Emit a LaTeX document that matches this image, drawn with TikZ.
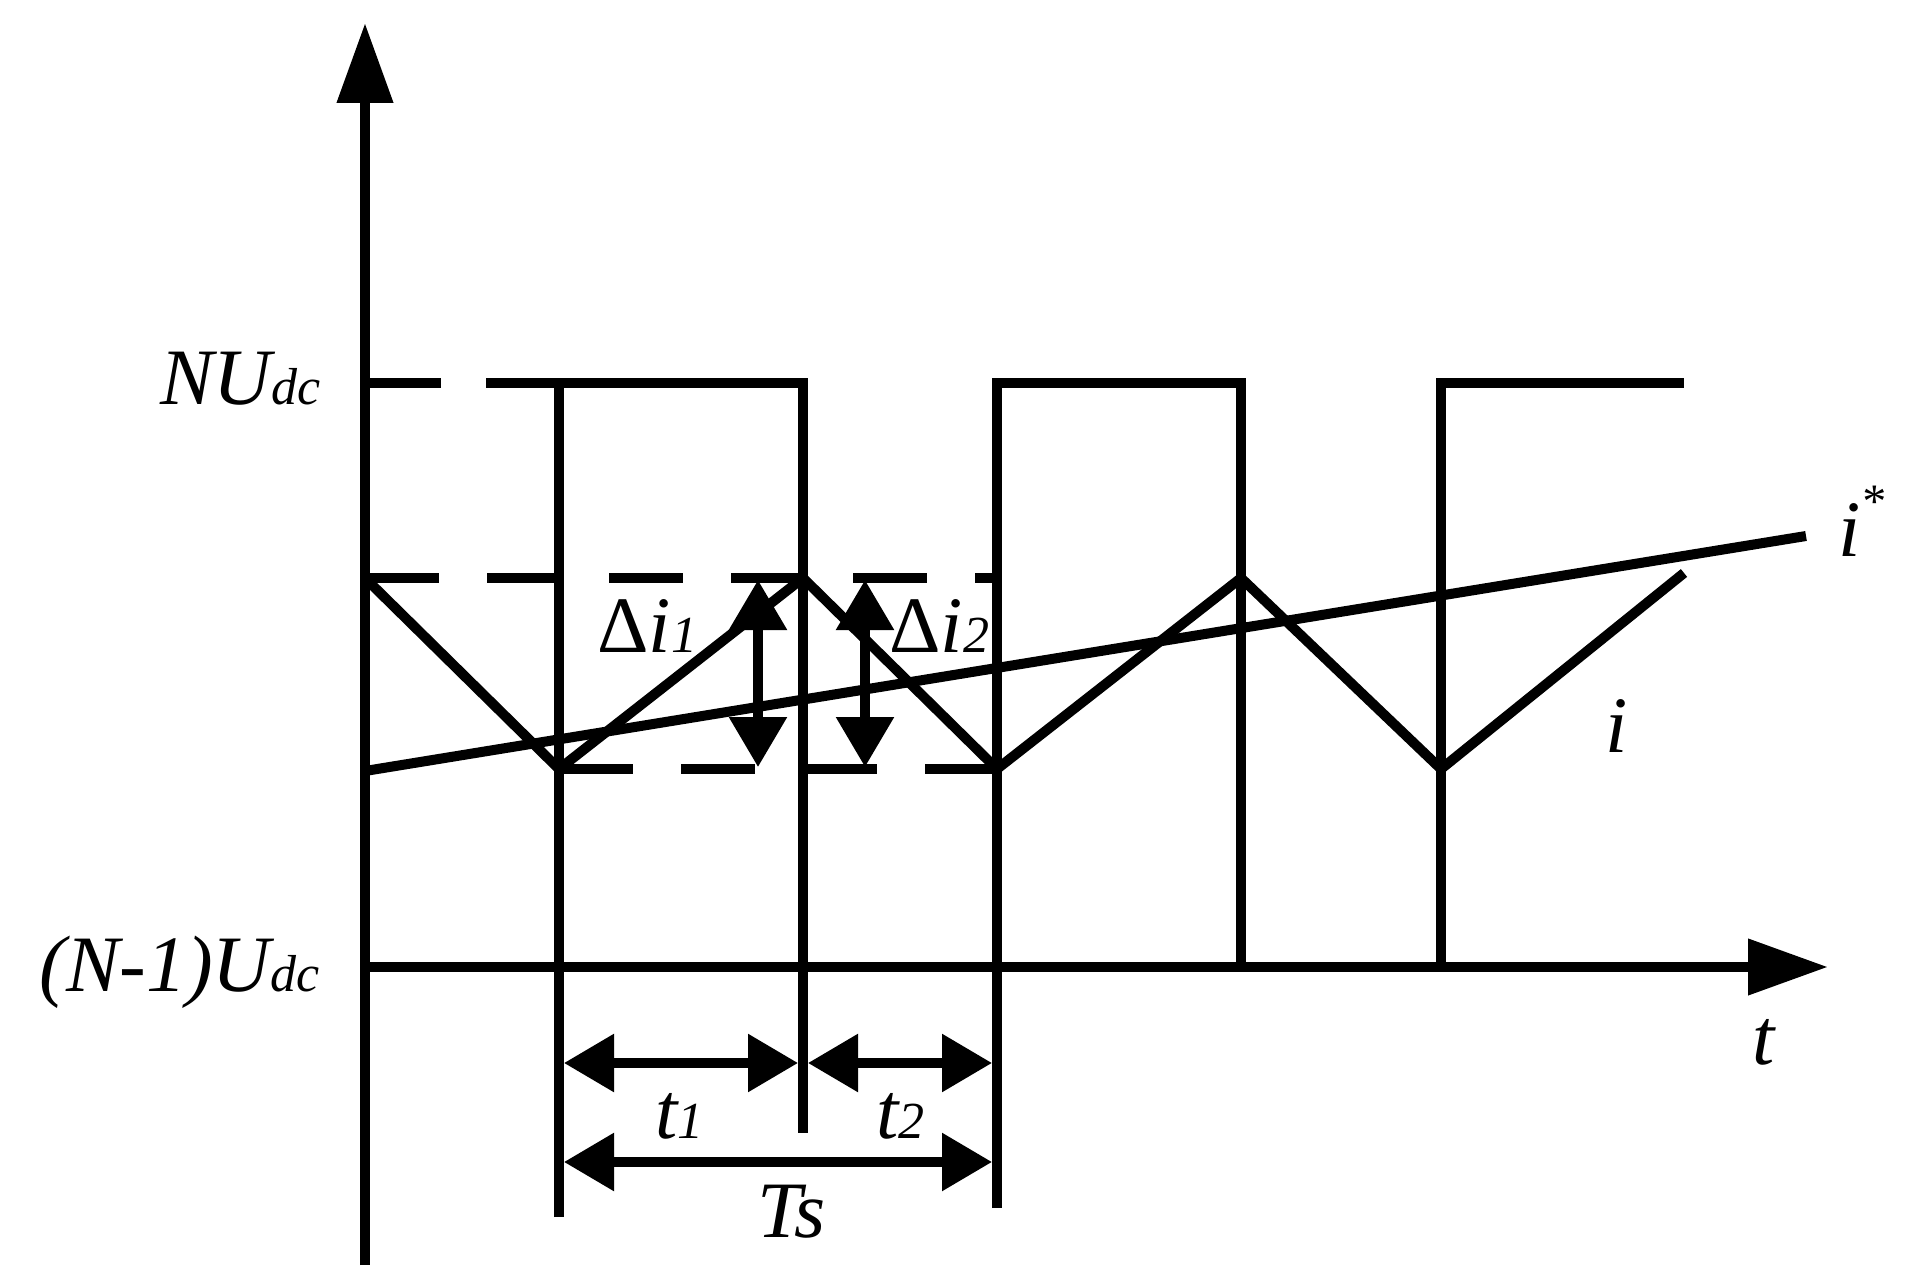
\documentclass[tikz,border=0pt]{standalone}
\usepackage{fontspec}
\setmainfont{Liberation Serif}
\usetikzlibrary{arrows.meta}
\newcommand{\sbs}[1]{{\fontsize{26}{28}\selectfont #1}}
\begin{document}
\begin{tikzpicture}[x=0.5pt,y=-0.5pt,
  axis/.style={line width=5.4pt, -{Triangle[length=40pt,width=27pt]}},
  wave/.style={line width=5pt, line join=miter},
  cur/.style={line width=5pt, line join=miter},
  dsh/.style={line width=5pt, dash pattern=on 37pt off 24pt},
  dimarr/.style={line width=4.6pt, {Triangle[length=25pt,width=28pt]}-{Triangle[length=25pt,width=28pt]}},
  lbl/.style={inner sep=0pt, font=\fontsize{40}{44}\selectfont\itshape}]
\useasboundingbox (0,0) rectangle (1907,1283);
% axes
\draw[axis] (365,1265) -- (365,23);
\draw[axis] (365,967) -- (1828,967);
% voltage waveform
\draw[wave] (365,383) -- (441,383);
\draw[wave] (559,1217) -- (559,383);
\draw[wave] (486,383) -- (803,383) -- (803,1133);
\draw[wave] (997,1208) -- (997,383) -- (1241,383) -- (1241,967);
\draw[wave] (1441,967) -- (1441,383) -- (1684,383);
% dashed levels
\draw[dsh] (365,578) -- (997,578);
\draw[dsh] (559,769) -- (997,769);
% currents
\draw[cur] (365,578) -- (559,769) -- (803,578) -- (997,769) -- (1241,578) -- (1441,769) -- (1684,573);
\draw[cur] (365,771) -- (1806,536);
% ripple arrows
\draw[dimarr] (758,580) -- (758,767);
\draw[dimarr] (865,580) -- (865,767);
% time arrows
\draw[dimarr] (564,1063) -- (798,1063);
\draw[dimarr] (808,1063) -- (992,1063);
\draw[dimarr] (564,1162) -- (992,1162);
% labels
\node[lbl, anchor=base west] (nu) at (160,405) {NU\sbs{dc}};
\node[lbl, anchor=base east] (n1u) at (320,991) {(N-1)U\sbs{dc}};
\node[lbl, anchor=base west] (istar) at (1838,557) {i\raisebox{20pt}{\fontsize{24}{24}\selectfont *}};
\node[lbl, anchor=base west] (ilab) at (1605,752) {i};
\node[lbl, anchor=base west] (tlab) at (1752,1064) {t};
\node[lbl, anchor=base west] (di1) at (597,652) {{\upshape Δ}i\sbs{1}};
\node[lbl, anchor=base west] (di2) at (889,652) {{\upshape Δ}i\sbs{2}};
\node[lbl, anchor=base west] (t1) at (655,1138) {t\sbs{1}};
\node[lbl, anchor=base west] (t2) at (876,1138) {t\sbs{2}};
\node[lbl, anchor=base west] (ts) at (757,1237) {Ts};
\end{tikzpicture}
\end{document}
